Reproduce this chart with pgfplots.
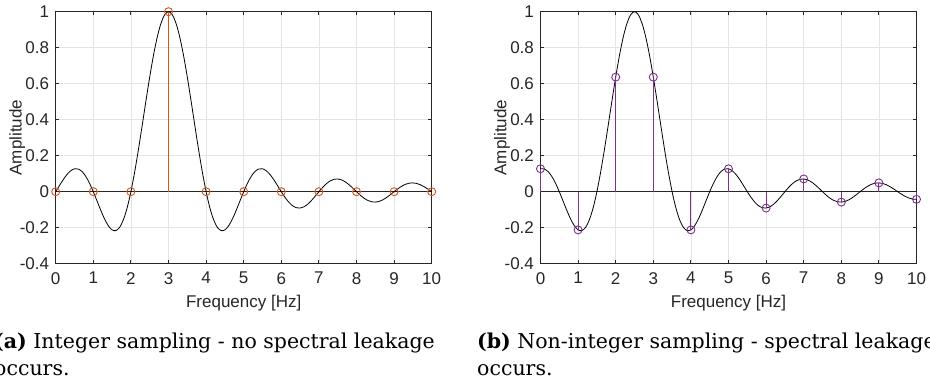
\documentclass[border=0pt]{standalone}
\usepackage{pgfplots}
\pgfplotsset{compat=1.18}
\usepackage{fontspec}
\setmainfont{DejaVu Serif}
\newfontfamily\axfont{Liberation Sans}
\definecolor{axgray}{RGB}{38,38,38}
\definecolor{gridgray}{RGB}{228,228,228}
\definecolor{mlorange}{RGB}{217,83,25}
\definecolor{mlpurple}{RGB}{126,47,142}
\pgfplotsset{
  mlaxis/.style={
    scale only axis, width=376pt, height=252pt,
    xmin=0, xmax=10, ymin=-0.4, ymax=1,
    clip=false,
    xtick={0,1,2,3,4,5,6,7,8,9,10},
    xticklabels={0,1,2,3,4,5,6,7,8,9,10},
    ytick={-0.4,-0.2,0,0.2,0.4,0.6,0.8,1},
    yticklabels={-0.4,-0.2,0,0.2,0.4,0.6,0.8,1},
    grid=major,
    major grid style={gridgray, line width=0.8pt},
    axis line style={axgray, line width=0.9pt},
    major tick style={axgray, line width=0.9pt},
    major tick length=3.8pt,
    tick align=inside,
    /pgf/number format/assume math mode=true,
    ticklabel style={font=\axfont\fontsize{17}{20}\selectfont, text=axgray},
    xticklabel style={anchor=north, inner sep=0pt, yshift=-8.3pt},
    yticklabel style={anchor=east, inner sep=0pt, xshift=-6.4pt},
    xlabel={Frequency [Hz]}, ylabel={Amplitude},
    xlabel style={font=\axfont\fontsize{17}{20}\selectfont, text=axgray, at={(axis description cs:0.5,-0.1548)}, anchor=center},
    ylabel style={font=\axfont\fontsize{17}{20}\selectfont, text=axgray, at={(axis description cs:-0.1024,0.5)}, rotate=0, anchor=center},
  }
}
\begin{document}
\begin{tikzpicture}
\useasboundingbox (0pt,0pt) rectangle (930pt,385pt);
\begin{axis}[mlaxis, at={(55.7pt,121.3pt)}, anchor=south west]
\addplot[axgray, line width=0.9pt, no marks] coordinates {(0,0) (10,0)};
\addplot[black, line width=0.8pt, smooth, no marks] coordinates {
(0,0) (0.1,0.03392) (0.2,0.06682) (0.3,0.09538) (0.4,0.11643) (0.5,0.12732) (0.6,0.12614) (0.7,0.11196) (0.8,0.08504) (0.9,0.04684) (1,0)
(1.1,-0.05177) (1.2,-0.10394) (1.3,-0.15148) (1.4,-0.18921) (1.5,-0.21221) (1.6,-0.21624) (1.7,-0.19809) (1.8,-0.15592) (1.9,-0.08942) (2,0)
(2.1,0.10929) (2.2,0.23387) (2.3,0.36788) (2.4,0.50455) (2.5,0.63662) (2.6,0.75683) (2.7,0.85839) (2.8,0.93549) (2.9,0.98363) (3,1)
(3.1,0.98363) (3.2,0.93549) (3.3,0.85839) (3.4,0.75683) (3.5,0.63662) (3.6,0.50455) (3.7,0.36788) (3.8,0.23387) (3.9,0.10929) (4,0)
(4.1,-0.08942) (4.2,-0.15592) (4.3,-0.19809) (4.4,-0.21624) (4.5,-0.21221) (4.6,-0.18921) (4.7,-0.15148) (4.8,-0.10394) (4.9,-0.05177) (5,0)
(5.1,0.04684) (5.2,0.08504) (5.3,0.11196) (5.4,0.12614) (5.5,0.12732) (5.6,0.11643) (5.7,0.09538) (5.8,0.06682) (5.9,0.03392) (6,0)
(6.1,-0.03173) (6.2,-0.05847) (6.3,-0.07804) (6.4,-0.08904) (6.5,-0.09095) (6.6,-0.08409) (6.7,-0.06960) (6.8,-0.04924) (6.9,-0.02522) (7,0)
(7.1,0.02399) (7.2,0.04455) (7.3,0.05989) (7.4,0.06880) (7.5,0.07074) (7.6,0.06581) (7.7,0.05479) (7.8,0.03898) (7.9,0.02007) (8,0)
(8.1,-0.01929) (8.2,-0.03598) (8.3,-0.04859) (8.4,-0.05606) (8.5,-0.05787) (8.6,-0.05406) (8.7,-0.04518) (8.8,-0.03226) (8.9,-0.01667) (9,0)
(9.1,0.01613) (9.2,0.03018) (9.3,0.04088) (9.4,0.04730) (9.5,0.04897) (9.6,0.04587) (9.7,0.03844) (9.8,0.02751) (9.9,0.01426) (10,0)
};
\addplot[mlorange, ycomb, line width=0.9pt, mark=o, mark size=4pt, mark options={line width=0.9pt}] coordinates {
(0,0) (1,0) (2,0) (3,1) (4,0) (5,0) (6,0) (7,0) (8,0) (9,0) (10,0)
};
\end{axis}
\begin{axis}[mlaxis, at={(540.5pt,121.3pt)}, anchor=south west]
\addplot[axgray, line width=0.9pt, no marks] coordinates {(0,0) (10,0)};
\addplot[black, line width=0.8pt, smooth, no marks] coordinates {
(0,0.12732) (0.1,0.12614) (0.2,0.11196) (0.3,0.08504) (0.4,0.04684) (0.5,0)
(0.6,-0.05177) (0.7,-0.10394) (0.8,-0.15148) (0.9,-0.18921) (1,-0.21221)
(1.1,-0.21624) (1.2,-0.19809) (1.3,-0.15592) (1.4,-0.08942) (1.5,0)
(1.6,0.10929) (1.7,0.23387) (1.8,0.36788) (1.9,0.50455) (2,0.63662)
(2.1,0.75683) (2.2,0.85839) (2.3,0.93549) (2.4,0.98363) (2.5,1)
(2.6,0.98363) (2.7,0.93549) (2.8,0.85839) (2.9,0.75683) (3,0.63662)
(3.1,0.50455) (3.2,0.36788) (3.3,0.23387) (3.4,0.10929) (3.5,0)
(3.6,-0.08942) (3.7,-0.15592) (3.8,-0.19809) (3.9,-0.21624) (4,-0.21221)
(4.1,-0.18921) (4.2,-0.15148) (4.3,-0.10394) (4.4,-0.05177) (4.5,0)
(4.6,0.04684) (4.7,0.08504) (4.8,0.11196) (4.9,0.12614) (5,0.12732)
(5.1,0.11643) (5.2,0.09538) (5.3,0.06682) (5.4,0.03392) (5.5,0)
(5.6,-0.03173) (5.7,-0.05847) (5.8,-0.07804) (5.9,-0.08904) (6,-0.09095)
(6.1,-0.08409) (6.2,-0.06960) (6.3,-0.04924) (6.4,-0.02522) (6.5,0)
(6.6,0.02399) (6.7,0.04455) (6.8,0.05989) (6.9,0.06880) (7,0.07074)
(7.1,0.06581) (7.2,0.05479) (7.3,0.03898) (7.4,0.02007) (7.5,0)
(7.6,-0.01929) (7.7,-0.03598) (7.8,-0.04859) (7.9,-0.05606) (8,-0.05787)
(8.1,-0.05406) (8.2,-0.04518) (8.3,-0.03226) (8.4,-0.01667) (8.5,0)
(8.6,0.01613) (8.7,0.03018) (8.8,0.04088) (8.9,0.04730) (9,0.04897)
(9.1,0.04587) (9.2,0.03844) (9.3,0.02751) (9.4,0.01426) (9.5,0)
(9.6,-0.01385) (9.7,-0.02599) (9.8,-0.03528) (9.9,-0.04091) (10,-0.04244)
};
\addplot[mlpurple, ycomb, line width=0.9pt, mark=o, mark size=4pt, mark options={line width=0.9pt}] coordinates {
(0,0.12732) (1,-0.21221) (2,0.63662) (3,0.63662) (4,-0.21221) (5,0.12732) (6,-0.09095) (7,0.07074) (8,-0.05787) (9,0.04897) (10,-0.04244)
};
\end{axis}
\node[anchor=base west, inner sep=0pt, font=\fontsize{20.5}{24}\selectfont] at (-6pt,36pt) {\textbf{(a)} Integer sampling - no spectral leakage};
\node[anchor=base west, inner sep=0pt, font=\fontsize{20.5}{24}\selectfont] at (-6pt,9pt) {occurs.};
\node[anchor=base west, inner sep=0pt, font=\fontsize{20.5}{24}\selectfont] at (477pt,36pt) {\textbf{(b)} Non-integer sampling - spectral leakage};
\node[anchor=base west, inner sep=0pt, font=\fontsize{20.5}{24}\selectfont] at (477pt,9pt) {occurs.};
\end{tikzpicture}
\end{document}
